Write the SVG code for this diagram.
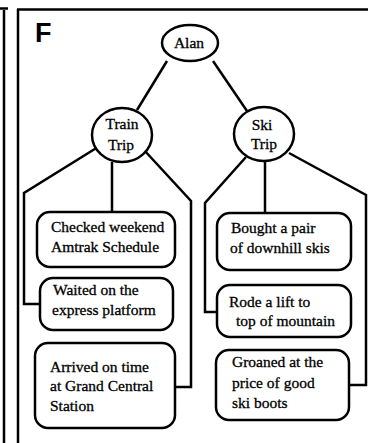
<svg xmlns="http://www.w3.org/2000/svg" width="368" height="443" viewBox="0 0 368 443">
<style>
.ln{fill:none;stroke:#000;stroke-width:2.5;stroke-linejoin:miter}
.nd{fill:#fff;stroke:#000;stroke-width:2.5}
text{font-family:'Liberation Serif','DejaVu Serif',serif;font-size:15.5px;fill:#000;stroke:#000;stroke-width:0.3}
.c{text-anchor:middle}
</style>
<rect width="368" height="443" fill="#fff"/>
<g id="frame">
<path class="ln" d="M4,10 V443 M18,9 V443 M17,9.5 H368 M0,8.5 H8"/>
<text x="35" y="42" style="font-family:'Liberation Sans',Arial,sans-serif;font-size:27px;font-weight:bold;stroke:none">F</text>
</g>
<g id="connectors">
<path class="ln" d="M167,61 L137,110"/>
<path class="ln" d="M213,61 L247,111"/>
<path class="ln" d="M98,147 L24,193 V304 H40"/>
<path class="ln" d="M112,162 V212"/>
<path class="ln" d="M144,150 L191,201 V387 H174"/>
<path class="ln" d="M246,157 L205,203 V312 H218"/>
<path class="ln" d="M265,162 V214"/>
<path class="ln" d="M289,153 L366,195 V385 H349"/>
</g>
<g id="alan">
<ellipse class="nd" cx="190" cy="43" rx="28" ry="18"/>
<text class="c" x="189" y="48" style="font-size:15.5px">Alan</text>
</g>
<g id="train-trip">
<ellipse class="nd" cx="122" cy="135" rx="30" ry="27"/>
<text class="c" x="122" y="129">Train</text>
<text class="c" x="121" y="150">Trip</text>
</g>
<g id="ski-trip">
<ellipse class="nd" cx="264" cy="134" rx="30" ry="27"/>
<text class="c" x="262" y="130">Ski</text>
<text class="c" x="264" y="149">Trip</text>
</g>
<g id="checked">
<rect class="nd" x="37" y="212" width="138" height="55" rx="13"/>
<text x="51" y="232">Checked weekend</text>
<text x="51" y="252">Amtrak Schedule</text>
</g>
<g id="waited">
<rect class="nd" x="40" y="278" width="133" height="52" rx="13"/>
<text x="53" y="295">Waited on the</text>
<text x="52" y="315">express platform</text>
</g>
<g id="arrived">
<rect class="nd" x="35" y="343" width="140" height="85" rx="13"/>
<text x="50" y="372">Arrived on time</text>
<text x="50" y="391">at Grand Central</text>
<text x="50" y="411">Station</text>
</g>
<g id="bought">
<rect class="nd" x="217" y="213" width="134" height="57" rx="13"/>
<text x="231" y="233">Bought a pair</text>
<text x="230" y="253">of downhill skis</text>
</g>
<g id="rode">
<rect class="nd" x="217" y="285" width="134" height="52" rx="13"/>
<text x="229" y="307">Rode a lift to</text>
<text x="236" y="326">top of mountain</text>
</g>
<g id="groaned">
<rect class="nd" x="216" y="350" width="133" height="70" rx="13"/>
<text x="232" y="367">Groaned at the</text>
<text x="232" y="388">price of good</text>
<text x="232" y="408">ski boots</text>
</g>
</svg>
